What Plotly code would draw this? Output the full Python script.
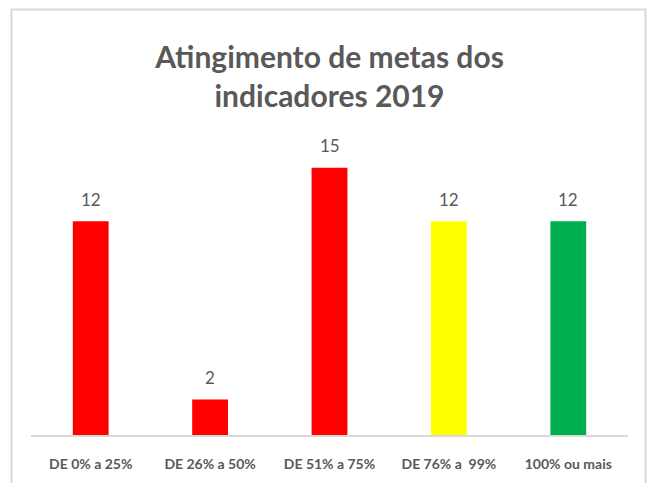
import plotly.graph_objects as go

categories = ["DE 0% a 25%", "DE 26% a 50%", "DE 51% a 75%", "DE 76% a  99%", "100% ou mais"]
values = [12, 2, 15, 12, 12]
colors = ["#FF0000", "#FF0000", "#FF0000", "#FFFF00", "#00B050"]

W, H = 652, 483
ml, mr, mt, mb = 31, 24, 150, 48
ymax = 16

fig = go.Figure(go.Bar(
    x=categories, y=values, marker=dict(color=colors, line=dict(width=0)),
    cliponaxis=False, hoverinfo="x+y",
))

for c, v in zip(categories, values):
    fig.add_annotation(x=c, y=v, text=str(v), showarrow=False, yanchor="middle",
                       yshift=22, font=dict(family="Lato", size=17, color="#595959"))

pw = W - ml - mr
ph = H - mt - mb
def px_x(p): return (p - ml) / pw
def px_y(p): return (H - mb - p) / ph

fig.update_layout(
    width=W, height=H,
    margin=dict(l=ml, r=mr, t=mt, b=mb),
    paper_bgcolor="white", plot_bgcolor="white",
    bargap=0.7,
    title=dict(text="<b>Atingimento de metas dos<br>indicadores 2019</b>",
               x=0.5, xanchor="center", xref="paper",
               y=1 - 68 / H, yanchor="top", yref="container",
               font=dict(family="Lato", size=30, color="#595959")),
    xaxis=dict(showline=True, linecolor="#D9D9D9", linewidth=1.5, ticks="",
               ticklabelstandoff=15,
               tickfont=dict(family="Lato", size=14, color="#595959", weight="bold"),
               showgrid=False),
    yaxis=dict(range=[0, ymax], visible=False, showgrid=False),
    showlegend=False,
    shapes=[dict(type="path", xref="paper", yref="paper",
                 path=f"M {px_x(11.5)} {px_y(490)} L {px_x(11.5)} {px_y(9.5)} L {px_x(645.5)} {px_y(9.5)} L {px_x(645.5)} {px_y(490)}",
                 line=dict(color="#D9D9D9", width=2))],
)
fig.write_html("out.html", config={"displayModeBar": False},
               post_script="document.body.style.margin='0';document.body.style.overflow='hidden';")
